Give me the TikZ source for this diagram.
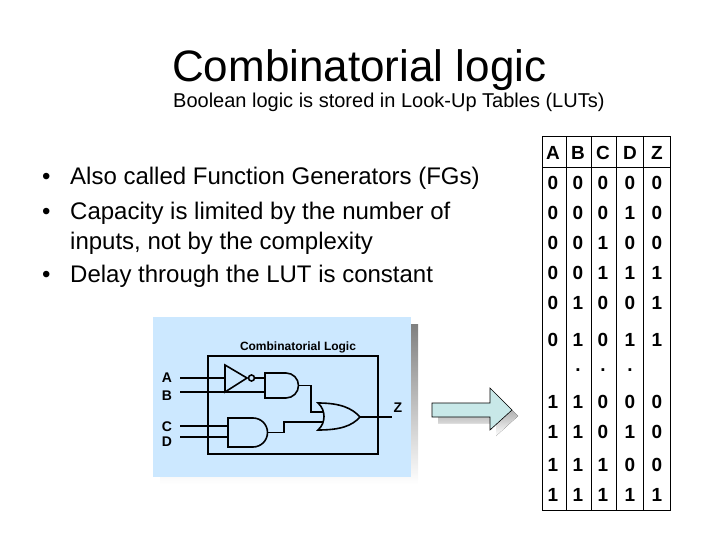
\documentclass[tikz,border=0pt]{standalone}
\usepackage{fontspec}
\setmainfont{Liberation Sans}
\begin{document}
\begin{tikzpicture}[x=1pt,y=-1pt,
  wire/.style={line width=1.6pt},
  gate/.style={line width=1.6pt,fill=none},
  tcell/.style={font=\bfseries\fontsize{19}{19}\selectfont,anchor=center,inner sep=0pt},
  lbl/.style={font=\bfseries\fontsize{14}{14}\selectfont,inner sep=0pt},
  bul/.style={font=\fontsize{24}{24}\selectfont,anchor=base west,inner sep=0pt}]
\definecolor{panel}{RGB}{204,232,255}
\definecolor{shade}{RGB}{185,185,185}
\definecolor{arrowc}{RGB}{200,232,232}
\useasboundingbox (0,0) rectangle (720,540);
% title
\node[anchor=base west,inner sep=0pt,font=\fontsize{44}{44}\selectfont] (title) at (172,82) {Combinatorial logic};
\node[anchor=base west,inner sep=0pt,font=\fontsize{20}{20}\selectfont] (sub) at (173,108) {Boolean logic is stored in Look-Up Tables (LUTs)};
% bullets
\foreach \y/\t/\b [count=\i] in {185/Also called Function Generators (FGs)/1, 220/Capacity is limited by the number of/1, 249/{inputs, not by the complexity}/0, 282/Delay through the LUT is constant/1}{
  \node[bul] (b\i) at (70,\y) {\t};
  \ifnum\b=1 \node[bul] (d\i) at (42,\y) {•};\fi
}
% panel
\fill[shade] (160,324) rectangle (418,484);
\fill[panel] (153,317) rectangle (411,477);
\draw[wire] (208,356) rectangle (378,454);
\node[font=\bfseries\fontsize{12}{12}\selectfont] (cl) at (298,347) {Combinatorial Logic};
\node[lbl] (A) at (167,378) {A};
\node[lbl] (B) at (167,396) {B};
\node[lbl] (C) at (167,427) {C};
\node[lbl] (D) at (167,442) {D};
\node[lbl] (Z) at (398,408) {Z};
% inverter
\draw[gate] (225,365) -- (247,378) -- (225,392) -- cycle;
\draw[gate,fill=panel] (251.5,378) circle (3);
% AND1
\draw[gate] (265,373) -- (286,373) arc (-90:90:12.5) -- (265,398) -- cycle;
% AND2
\draw[gate] (228,418) -- (253,418) arc (-90:90:14.5) -- (228,447) -- cycle;
% OR
\draw[gate] (318,403) .. controls (326,410) and (326,423) .. (318,430)
  .. controls (340,430) and (352,426) .. (360,417)
  .. controls (352,408) and (340,403) .. (318,403) -- cycle;
% wires
\draw[wire] (180,378) -- (225,378);
\draw[wire] (254.5,378) -- (265,378);
\draw[wire] (180,392) -- (265,392);
\draw[wire] (180,426) -- (228,426);
\draw[wire] (180,437) -- (228,437);
\draw[wire] (298.5,385.5) -- (311,385.5) -- (311,412) -- (323,412);
\draw[wire] (267.5,432.5) -- (284,432.5) -- (284,422) -- (323,422);
\draw[wire] (360,417) -- (392,417);
% arrow
\fill[shade] (438,409) -- (496,409) -- (496,394) -- (518,416) -- (496,436) -- (496,423) -- (438,423) -- cycle;
\draw[fill=arrowc,line width=0.6pt] (432,403) -- (490,403) -- (490,388) -- (512,410) -- (490,430) -- (490,417) -- (432,417) -- cycle;
% truth table
\draw[line width=1pt] (542,137) rectangle (670,510);
\draw[line width=0.6pt] (542,167) -- (670,167);
\foreach \x in {566,591,616,643}{\draw[line width=0.6pt] (\x,137) -- (\x,510);}
\foreach \l [count=\j] in {A,B,C,D,Z}{
  \pgfmathsetmacro\xx{{553,578,603,630,657}[\j-1]}
  \node[tcell] (h\j) at (\xx,153) {\l};}
\foreach \y/\r [count=\i] in {183/{0,0,0,0,0},213/{0,0,0,1,0},243/{0,0,1,0,0},273/{0,0,1,1,1},303/{0,1,0,0,1},340/{0,1,0,1,1},402/{1,1,0,0,0},432/{1,1,0,1,0},465/{1,1,1,0,0},495/{1,1,1,1,1}}{
  \foreach \v [count=\j] in \r {
    \pgfmathsetmacro\xx{{553,578,603,630,657}[\j-1]}
    \node[tcell] (c\i-\j) at (\xx,\y) {\v};}}
\foreach \x [count=\j] in {578,603,630}{\node[tcell] (dot\j) at (\x,370) {.};}
\end{tikzpicture}
\end{document}
